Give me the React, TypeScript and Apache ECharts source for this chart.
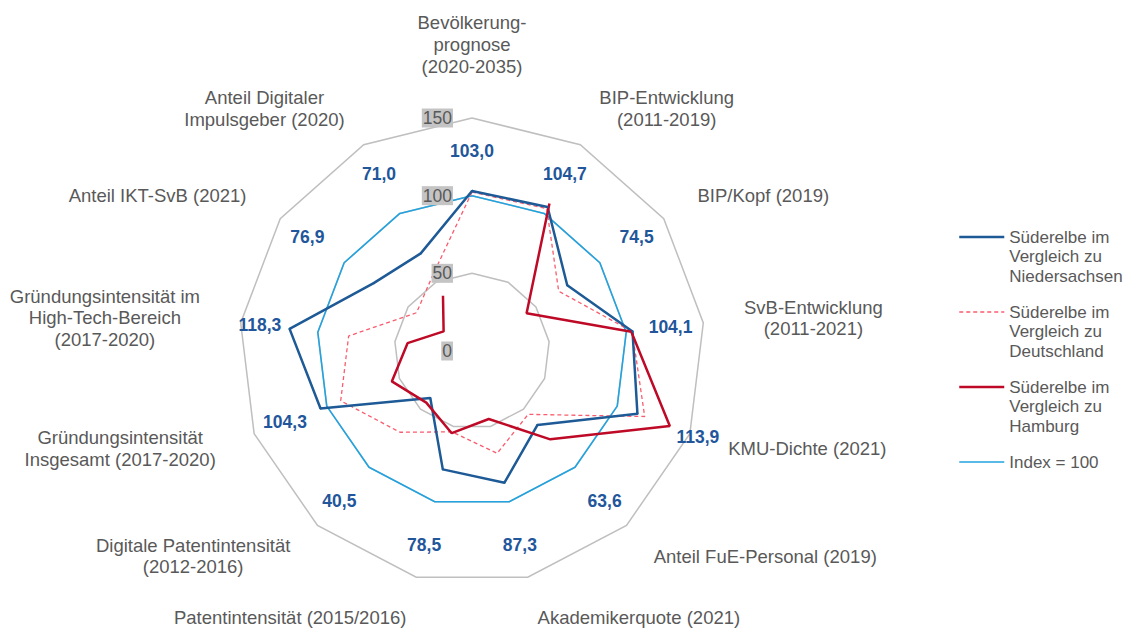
import React, { useEffect, useRef } from "react";
import * as echarts from "echarts";

// ---------- data ----------
const INDICATORS = [
  "Bevölkerung-\nprognose\n(2020-2035)",
  "BIP-Entwicklung\n(2011-2019)",
  "BIP/Kopf (2019)",
  "SvB-Entwicklung\n(2011-2021)",
  "KMU-Dichte (2021)",
  "Anteil FuE-Personal (2019)",
  "Akademikerquote (2021)",
  "Patentintensität (2015/2016)",
  "Digitale Patentintensität\n(2012-2016)",
  "Gründungsintensität\nInsgesamt (2017-2020)",
  "Gründungsintensität im\nHigh-Tech-Bereich\n(2017-2020)",
  "Anteil IKT-SvB (2021)",
  "Anteil Digitaler\nImpulsgeber (2020)",
];
const AXIS_MAX = 150;
const SPLIT_NUMBER = 3;

const NIEDERSACHSEN = [103.0, 104.7, 74.5, 104.1, 113.9, 63.6, 87.3, 78.5, 40.5, 104.3, 118.3, 76.9, 71.0];
const DEUTSCHLAND = [102.3, 103.5, 67.8, 103.9, 118.9, 54.5, 67.8, 53.6, 69.9, 90.4, 80.0, 43.4, 54.7];
const HAMBURG: (number | null)[] = [null, 107.3, 42.7, 103.3, 136.2, 76.0, 45.1, 54.5, 44.4, 55.2, 41.8, 22.2, 40.2];
const INDEX = [100, 100, 100, 100, 100, 100, 100, 100, 100, 100, 100, 100, 100];

const NAME_NI = "Süderelbe im\nVergleich zu\nNiedersachsen";
const NAME_DE = "Süderelbe im\nVergleich zu\nDeutschland";
const NAME_HH = "Süderelbe im\nVergleich zu\nHamburg";
const NAME_IDX = "Index = 100";

// ---------- layout / style ----------
const CX = 472;
const CY = 351;
const RADIUS = 233;
const FONT = "'Liberation Sans', Arial, Helvetica, sans-serif";
const TEXT_GRAY = "#595959";
const C_NI = "#1D5A96";
const C_NI_LABEL = "#22569B";
const C_DE = "#F95C6E";
const C_HH = "#BE0A26";
const C_IDX = "#22A3DF";
const LEG_LH = 19.5;
const NAME_FS = 18.5;
const NAME_LH = 21.7;

const N = INDICATORS.length;
const fmt = (v: number) => v.toFixed(1).replace(".", ",");

// ECharts radar lays indicators out counter-clockwise; the reference runs clockwise
const RADAR_ORDER = [INDICATORS[0], ...INDICATORS.slice(1).reverse()];

// polar data: [radius, angleIndex], closed by repeating the first value at angle N
const toPolar = (vals: (number | null)[], hideLast = false) => {
  const pts: any[] = vals.map((v, i) => [v == null ? "-" : v, i]);
  const first = vals[0];
  pts.push(
    hideLast
      ? { value: [first == null ? "-" : first, N], label: { show: false } }
      : [first == null ? "-" : first, N]
  );
  return pts;
};

export default function App() {
  const ref = useRef<HTMLDivElement | null>(null);

  useEffect(() => {
    document.body.style.margin = "0";
    if (!ref.current) return;
    const chart = echarts.init(ref.current, undefined, { renderer: "svg" });

    const labelLayout = (p: any) => {
      const r = p.rect;
      const px = r.x + r.width / 2;
      const py = r.y + r.height / 2;
      let ang = Math.atan2(px - CX, -(py - CY));
      if (ang < 0) ang += Math.PI * 2;
      const i = Math.round(ang / ((Math.PI * 2) / N)) % N;
      const maxV = Math.max(NIEDERSACHSEN[i], DEUTSCHLAND[i], HAMBURG[i] ?? 0);
      const R = Math.max(200, (maxV * RADIUS) / AXIS_MAX + 30);
      const a = (i * Math.PI * 2) / N;
      return { x: CX + R * Math.sin(a), y: CY - R * Math.cos(a), align: "center", verticalAlign: "middle" };
    };

    const option: any = {
      animation: false,
      backgroundColor: "#ffffff",
      legend: {
        orient: "vertical",
        left: 958,
        top: 237 - (5 * LEG_LH) / 2,
        padding: 0,
        itemWidth: 45,
        itemHeight: 14,
        itemGap: 75 - 5 * LEG_LH,
        selectedMode: false,
        // two leading blank lines put the first text line level with the line icon
        formatter: (name: string) => "\n\n" + name + (name === NAME_IDX ? "\n\n" : ""),
        textStyle: {
          color: TEXT_GRAY,
          fontSize: 17,
          fontFamily: FONT,
          lineHeight: LEG_LH,
        },
        itemStyle: { opacity: 0 },
        data: [
          { name: NAME_NI, lineStyle: { width: 2.5 } },
          { name: NAME_DE, lineStyle: { width: 1.3 } },
          { name: NAME_HH, lineStyle: { width: 2.5 } },
          { name: NAME_IDX, lineStyle: { width: 1.6 } },
        ],
      },
      radar: [
        {
          center: [CX, CY],
          radius: RADIUS,
          shape: "polygon",
          splitNumber: SPLIT_NUMBER,
          startAngle: 90,
          nameGap: 41,
          axisName: {
            color: TEXT_GRAY,
            fontSize: NAME_FS,
            fontFamily: FONT,
            lineHeight: NAME_LH,
            formatter: (n: string) => `{c|${n}}`,
            rich: {
              c: { align: "center", color: TEXT_GRAY, fontSize: NAME_FS, fontFamily: FONT, lineHeight: NAME_LH },
            },
          },
          axisLine: { show: false },
          axisTick: { show: false },
          axisLabel: { show: false },
          splitArea: { show: false },
          splitLine: { lineStyle: { color: "#BFBFBF", width: 1.5 } },
          indicator: RADAR_ORDER.map((name) => ({ name, max: AXIS_MAX })),
        },
        {
          center: [CX, CY],
          radius: RADIUS,
          shape: "polygon",
          splitNumber: SPLIT_NUMBER,
          startAngle: 90,
          z: 10,
          axisName: { show: false },
          axisLine: { show: false },
          axisTick: { show: false },
          splitArea: { show: false },
          splitLine: { show: false },
          axisLabel: {
            show: false,
            color: TEXT_GRAY,
            fontSize: 17.5,
            fontFamily: FONT,
            backgroundColor: "#C4C4C4",
            padding: [1, 1, 0, 1],
            margin: 19,
          },
          indicator: RADAR_ORDER.map((_, i) => ({ name: "", max: AXIS_MAX, axisLabel: { show: i === 0 } })),
        },
      ],
      polar: { center: [CX, CY], radius: RADIUS },
      angleAxis: { type: "value", min: 0, max: N, startAngle: 90, clockwise: true, show: false },
      radiusAxis: { type: "value", min: 0, max: AXIS_MAX, show: false },
      series: [
        {
          name: NAME_IDX,
          type: "line",
          coordinateSystem: "polar",
          symbol: "none",
          silent: true,
          lineStyle: { color: C_IDX, width: 1.6 },
          itemStyle: { color: C_IDX },
          data: toPolar(INDEX),
        },
        {
          name: NAME_DE,
          type: "line",
          coordinateSystem: "polar",
          symbol: "none",
          silent: true,
          lineStyle: { color: C_DE, width: 1.3, type: [4, 3] },
          itemStyle: { color: C_DE },
          data: toPolar(DEUTSCHLAND),
        },
        {
          name: NAME_NI,
          type: "line",
          coordinateSystem: "polar",
          symbol: "circle",
          symbolSize: 2,
          showSymbol: true,
          silent: true,
          lineStyle: { color: C_NI, width: 2.5 },
          itemStyle: { color: C_NI },
          label: {
            show: true,
            formatter: (p: any) => fmt(p.value[0]),
            color: C_NI_LABEL,
            fontSize: 17.5,
            fontWeight: "bold",
            fontFamily: FONT,
          },
          labelLayout,
          data: toPolar(NIEDERSACHSEN, true),
        },
        {
          name: NAME_HH,
          type: "line",
          coordinateSystem: "polar",
          symbol: "none",
          silent: true,
          lineStyle: { color: C_HH, width: 2.5 },
          itemStyle: { color: C_HH },
          data: toPolar(HAMBURG),
        },
      ],
    };

    chart.setOption(option);
    return () => chart.dispose();
  }, []);

  return <div ref={ref} style={{ width: 1126, height: 628 }} />;
}
